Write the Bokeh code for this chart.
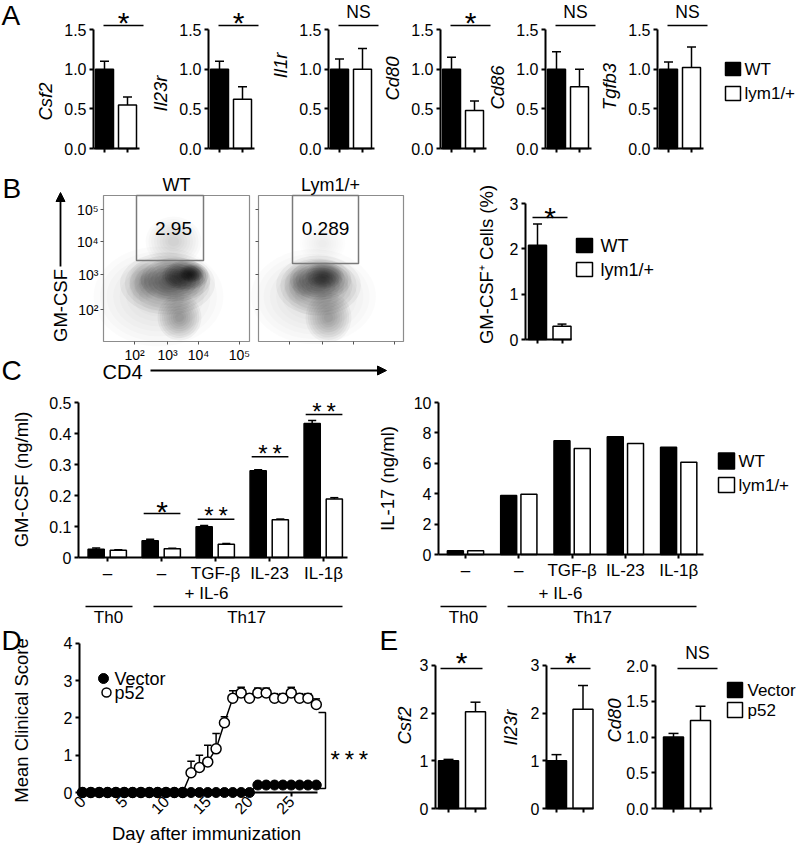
from math import pi
from bokeh.plotting import figure
from bokeh.models import Range1d, FixedTicker, Arrow, NormalHead, LinearAxis
from bokeh.core.properties import value
from bokeh.embed import file_html
from bokeh.resources import INLINE

FONT = "Liberation Sans"
TICK_FS = "16px"
LAB_FS = "18.5px"
LEG_FS = "17px"
PANEL_FS = "28px"
NS_FS = "17.5px"
CAT_FS = "17px"
W, H = 800, 843

# ======================= DATA =======================
# Panel A: relative expression, WT vs lym1/+
A_GENES = ["Csf2", "Il23r", "Il1r", "Cd80", "Cd86", "Tgfb3"]
A_WT = [1.00, 1.00, 1.00, 1.00, 1.00, 1.00]
A_WT_ERR = [0.10, 0.10, 0.13, 0.15, 0.22, 0.09]
A_LYM = [0.55, 0.62, 1.00, 0.48, 0.78, 1.02]
A_LYM_ERR = [0.10, 0.16, 0.26, 0.12, 0.22, 0.26]
A_SIG = ["*", "*", "NS", "*", "NS", "NS"]
A_YTICKS = [0, 0.5, 1, 1.5]
A_YLABELS = ["0.0", "0.5", "1.0", "1.5"]
GROUPS = ["WT", "lym1/+"]

# Panel B: flow cytometry + % GM-CSF+ cells
FLOW_TITLES = ["WT", "Lym1/+"]
FLOW_GATE_PCT = ["2.95", "0.289"]
FLOW_TICK_LABELS = ["10²", "10³", "10⁴", "10⁵"]
FLOW_X_TICKS = [31, 64, 95, 136]
FLOW_Y_TICKS = [32, 67, 100, 132]
FLOW_WT_GATE = [33, 100, 81, 146]
FLOW_LYM_GATE = [34, 100, 78, 146]
# density blobs of the dot clouds: centre x, centre y, width, height, alpha
FLOW_WT_BX = [55, 64, 72, 82, 88, 76, 70, 40]
FLOW_WT_BY = [45, 58, 62, 66, 68, 24, 100, 60]
FLOW_WT_BW = [130, 95, 70, 46, 24, 44, 56, 30]
FLOW_WT_BH = [100, 62, 44, 30, 18, 46, 50, 40]
FLOW_WT_BA = [0.10, 0.30, 0.40, 0.55, 0.55, 0.30, 0.12, 0.15]
FLOW_LYM_BX = [55, 60, 62, 66, 70, 64, 40]
FLOW_LYM_BY = [45, 56, 62, 66, 24, 98, 58]
FLOW_LYM_BW = [125, 85, 62, 38, 46, 46, 30]
FLOW_LYM_BH = [95, 60, 40, 26, 50, 40, 40]
FLOW_LYM_BA = [0.10, 0.28, 0.36, 0.40, 0.25, 0.06, 0.12]
B_YLABEL = "GM-CSF⁺ Cells (%)"
B_VALUES = [2.08, 0.29]
B_ERRS = [0.47, 0.05]
B_SIG = "*"
B_YTICKS = [0, 1, 2, 3]

# Panel C: cytokine production
C_CATS = ["–", "–", "TGF-β", "IL-23", "IL-1β"]
C_SUB = "+ IL-6"
C_GM_WT = [0.027, 0.054, 0.099, 0.280, 0.432]
C_GM_WT_ERR = [0.004, 0.005, 0.004, 0.003, 0.010]
C_GM_LYM = [0.023, 0.028, 0.043, 0.122, 0.189]
C_GM_LYM_ERR = [0.002, 0.002, 0.002, 0.002, 0.004]
C_GM_SIG = ["", "*", "**", "**", "**"]
C_GM_SIG_Y = [0, 0.142, 0.123, 0.325, 0.461]
C_IL17_WT = [0.25, 3.88, 7.48, 7.74, 7.05]
C_IL17_LYM = [0.25, 3.97, 6.98, 7.30, 6.07]
C_GM_YTICKS = [0, 0.1, 0.2, 0.3, 0.4, 0.5]
C_GM_YLABELS = ["0", "0.1", "0.2", "0.3", "0.4", "0.5"]
C_IL17_YTICKS = [0, 2, 4, 6, 8, 10]
C_IL17_YLABELS = ["0", "2", "4", "6", "8", "10"]
C_GROUPS = ["Th0", "Th17"]

# Panel D: EAE clinical score
D_DAYS = [0, 1, 2, 3, 4, 5, 6, 7, 8, 9, 10, 11, 12, 13, 14, 15, 16, 17, 18, 19,
          20, 21, 22, 23, 24, 25, 26, 27, 28]
D_VECTOR = [0, 0, 0, 0, 0, 0, 0, 0, 0, 0, 0, 0, 0, 0, 0, 0, 0, 0, 0, 0,
            0, 0.2, 0.2, 0.2, 0.2, 0.2, 0.2, 0.2, 0.2]
D_P52 = [0, 0, 0, 0, 0, 0, 0, 0, 0, 0, 0, 0, 0, 0.53, 0.67, 0.82, 1.17, 1.87, 2.53, 2.67,
         2.53, 2.67, 2.67, 2.53, 2.53, 2.67, 2.53, 2.53, 2.36]
D_P52_ERR = [0, 0, 0, 0, 0, 0, 0, 0, 0, 0, 0, 0, 0, 0.31, 0.33, 0.45, 0.41, 0.16, 0.20, 0.15,
             0.12, 0.13, 0.13, 0.12, 0.12, 0.15, 0.12, 0.12, 0.15]
D_SERIES = ["Vector", "p52"]
D_SIG = "***"
D_XTICKS = [0, 5, 10, 15, 20, 25]
D_YTICKS = [0, 1, 2, 3, 4]

# Panel E: p52 over-expression
E_GENES = ["Csf2", "Il23r", "Cd80"]
E_VEC = [1.00, 1.00, 1.00]
E_VEC_ERR = [0.03, 0.13, 0.05]
E_P52 = [2.03, 2.08, 1.23]
E_P52_ERR = [0.20, 0.50, 0.20]
E_SIG = ["*", "*", "NS"]
E_YTICKS = [[0, 1, 2, 3], [0, 1, 2, 3], [0, 0.5, 1, 1.5, 2]]
E_YLABELS = [["0", "1", "2", "3"], ["0", "1", "2", "3"], ["0.0", "0.5", "1.0", "1.5", "2.0"]]

# ======================= CANVAS =======================
p = figure(width=W, height=H, x_range=Range1d(0, W), y_range=Range1d(0, H),
           output_backend="svg", toolbar_location=None, title=None,
           x_axis_location=None, y_axis_location=None,
           min_border_left=0, min_border_right=0, min_border_top=0, min_border_bottom=0)
p.outline_line_color = None
p.grid.visible = False
p.background_fill_color = "white"
p.border_fill_color = "white"


class Sub:
    """A sub-plot coordinate system: data value val_x sits at page pixel px_x, etc."""
    n = 0

    def __init__(self, px_x, val_x, ppx, px_y, val_y, ppy):
        Sub.n += 1
        self.xn, self.yn = "sx%d" % Sub.n, "sy%d" % Sub.n
        self.px_x, self.val_x, self.ppx = px_x, val_x, ppx
        self.px_y, self.val_y, self.ppy = px_y, val_y, ppy
        xs = val_x - px_x / ppx
        ys = val_y - (H - px_y) / ppy
        p.extra_x_ranges[self.xn] = Range1d(xs, xs + W / ppx)
        p.extra_y_ranges[self.yn] = Range1d(ys, ys + H / ppy)

    def vx(self, px):
        return self.val_x + (px - self.px_x) / self.ppx

    def vy(self, py):
        return self.val_y + (self.px_y - py) / self.ppy

    def pxx(self, v):
        return self.px_x + (v - self.val_x) * self.ppx

    def pxy(self, v):
        return self.px_y - (v - self.val_y) * self.ppy

    @property
    def kw(self):
        return dict(x_range_name=self.xn, y_range_name=self.yn)


def T(x, y, s, fs, align="left", angle=0, style="normal"):
    """text in page pixels (y measured from the top)"""
    p.text(x=[x], y=[H - y], text=[s], angle=angle, text_font=value(FONT),
           text_font_size=value(fs), text_align=value(align),
           text_baseline=value("middle"), text_font_style=value(style),
           text_color="black")


def L(xs, ys, lw=1.5, color="black"):
    p.line(x=xs, y=[H - y for y in ys], line_color=color, line_width=lw)


def square(cx, cy, w, h, fill):
    p.rect(x=[cx], y=[H - cy], width=w, height=h, fill_color=fill, line_color="black",
           line_width=1.5)


def arrow(ax, ay, bx, by):
    p.add_layout(Arrow(end=NormalHead(size=9, fill_color="black", line_color="black",
                                      line_width=1),
                       x_start=ax, y_start=H - ay, x_end=bx, y_end=H - by,
                       line_width=1.8, line_color="black"))


def axis(sub, side, loc, ticks, labels, bounds=None, fs=TICK_FS, color="black", lw=2,
         tick_out=4, standoff=3, orientation=None):
    ax = LinearAxis(x_range_name=sub.xn, y_range_name=sub.yn, fixed_location=loc,
                    ticker=FixedTicker(ticks=list(ticks), minor_ticks=[]),
                    major_label_overrides={t: l for t, l in zip(ticks, labels)})
    if bounds is not None:
        ax.bounds = bounds
    ax.axis_line_color = color
    ax.axis_line_width = lw
    ax.major_tick_line_color = color
    ax.major_tick_line_width = lw
    ax.major_tick_out = tick_out
    ax.major_tick_in = 0
    ax.minor_tick_line_color = None
    ax.major_label_text_font = FONT
    ax.major_label_text_font_size = fs
    ax.major_label_text_color = "black"
    ax.major_label_standoff = standoff
    if orientation is not None:
        ax.major_label_orientation = orientation
    p.add_layout(ax, side)
    return ax


def bars(sub, xs, tops, errs, bw, fills, cap_frac=0.25):
    p.vbar(x=xs, top=tops, width=bw, bottom=0, fill_color=fills,
           line_color="black", line_width=1.5, **sub.kw)
    ex = [x for x, e in zip(xs, errs) if e > 0]
    et = [t for t, e in zip(tops, errs) if e > 0]
    ee = [t + e for t, e in zip(tops, errs) if e > 0]
    cw = bw * cap_frac
    p.segment(x0=ex, y0=et, x1=ex, y1=ee, line_color="black", line_width=1.5, **sub.kw)
    p.segment(x0=[x - cw for x in ex], y0=ee, x1=[x + cw for x in ex], y1=ee,
              line_color="black", line_width=1.5, **sub.kw)


def star_text(s):
    return "\u2009".join(list(s))


def sig_px(x0, x1, y, label, gap=10, ns_gap=14):
    """significance line in page pixels, label centred above"""
    if not label:
        return
    L([x0, x1], [y, y])
    xc = (x0 + x1) / 2
    if label.startswith("*"):
        fs = 30 if len(label) == 1 else 24
        T(xc, y - gap + 0.23 * fs, star_text(label), "%dpx" % fs, "center")
    else:
        T(xc, y - ns_gap, label, NS_FS, "center")


def blank_x(sub, px0, px1):
    axis(sub, "below", 0, [1, 2], ["", ""], (sub.vx(px0), sub.vx(px1)), fs="1px", standoff=0)


# ======================= PANEL A =======================
A_AXIS_X = [93, 208, 328, 440, 545, 657]
A_LABEL_Y = [101, 93, 65, 78, 87, 86]
T(1, 15, "A", PANEL_FS)
for i in range(6):
    axx = A_AXIS_X[i]
    s = Sub(axx + 11, 1, 23.0, 148, 0, 79.3)
    bars(s, [1, 2], [A_WT[i], A_LYM[i]], [A_WT_ERR[i], A_LYM_ERR[i]], 18 / 23.0,
         ["black", "white"])
    sig_px(axx + 10, axx + 50, 25, A_SIG[i], gap=10, ns_gap=14)
    axis(s, "left", s.vx(axx), A_YTICKS, A_YLABELS, (0, 1.5))
    blank_x(s, axx, axx + 46)
    T(axx - 48, A_LABEL_Y[i], A_GENES[i], LAB_FS, "center", pi / 2, "italic")
square(732.5, 68.5, 15, 13, "black")
T(744, 68.5, GROUPS[0], LEG_FS)
square(732.5, 93, 15, 14, "white")
T(744, 93, GROUPS[1], LEG_FS)

# ======================= PANEL B =======================
T(2, 187.5, "B", PANEL_FS)
T(60, 305, "GM-CSF", LAB_FS, "center", pi / 2)
arrow(60, 266, 60, 192)


def flow(box_left, box_w, title, title_x, bx, by, bw, bh, ba, gate, pct, pct_xy, labels):
    s = Sub(box_left, 0, 1.0, 341, 0, 1.0)
    scales = (1.0, 0.9, 0.8, 0.7, 0.6, 0.5, 0.4, 0.3, 0.2)
    for sc in scales:
        p.ellipse(x=bx, y=by, width=[w * sc for w in bw], height=[h * sc for h in bh],
                  fill_color="black", fill_alpha=[a * 0.15 for a in ba], line_color=None,
                  **s.kw)
    p.quad(left=[0], right=[box_w], bottom=[0], top=[146], fill_color=None,
           line_color="#8c8c8c", line_width=1.2, **s.kw)
    p.quad(left=[gate[0]], right=[gate[1]], bottom=[gate[2]], top=[gate[3]],
           fill_color=None, line_color="#7a7a7a", line_width=1.5, **s.kw)
    T(s.pxx(pct_xy[0]), s.pxy(pct_xy[1]), pct, "19px", "center")
    T(title_x, 184, title, "18px", "center")
    lab = FLOW_TICK_LABELS if labels else ["", "", "", ""]
    fs = "14px" if labels else "1px"
    ya = axis(s, "left", 0, FLOW_Y_TICKS, lab, None, fs=fs, color="#555555", lw=1, tick_out=3,
              standoff=2)
    xa = axis(s, "below", 0, FLOW_X_TICKS, lab, None, fs=fs, color="#555555", lw=1, tick_out=3,
              standoff=2)
    ya.axis_line_color = None
    xa.axis_line_color = None


flow(103, 146, FLOW_TITLES[0], 176, FLOW_WT_BX, FLOW_WT_BY, FLOW_WT_BW, FLOW_WT_BH, FLOW_WT_BA,
     FLOW_WT_GATE, FLOW_GATE_PCT[0], (70, 113), True)
flow(258, 145, FLOW_TITLES[1], 330, FLOW_LYM_BX, FLOW_LYM_BY, FLOW_LYM_BW, FLOW_LYM_BH,
     FLOW_LYM_BA, FLOW_LYM_GATE, FLOW_GATE_PCT[1], (67, 113), False)

sB = Sub(537, 1, 24.5, 339, 0, 45.33)
bars(sB, [1, 2], B_VALUES, B_ERRS, 18 / 24.5, ["black", "white"])
sig_px(532, 567, 217, B_SIG, gap=7)
axis(sB, "left", sB.vx(525), B_YTICKS, [str(t) for t in B_YTICKS], (0, 3))
blank_x(sB, 525, 571)
T(486, 264, B_YLABEL, LAB_FS, "center", pi / 2)
square(584, 245, 16, 14, "black")
T(600, 245, GROUPS[0], "18px")
square(584, 269, 16, 14, "white")
T(600, 269, GROUPS[1], "18px")

T(102, 371.5, "CD4", "20px")
arrow(150, 370, 386, 370)

# ======================= PANEL C =======================
T(1, 369.5, "C", PANEL_FS)
cx = [1, 2, 3, 4, 5]
sCL = Sub(107, 1, 54.0, 557, 0, 310.0)
bars(sCL, [x - 0.21 for x in cx], C_GM_WT, C_GM_WT_ERR, 0.30, ["black"] * 5)
bars(sCL, [x + 0.20 for x in cx], C_GM_LYM, C_GM_LYM_ERR, 0.30, ["white"] * 5)
for g in range(5):
    if C_GM_SIG[g]:
        sig_px(sCL.pxx(cx[g] - 0.33), sCL.pxx(cx[g] + 0.35), sCL.pxy(C_GM_SIG_Y[g]),
               C_GM_SIG[g], gap=9)
axis(sCL, "left", sCL.vx(78), C_GM_YTICKS, C_GM_YLABELS, (0, 0.5))
axis(sCL, "below", 0, cx, C_CATS, (sCL.vx(78), sCL.vx(347)), fs=CAT_FS, standoff=2)
T(21, 479, "GM-CSF (ng/ml)", LAB_FS, "center", pi / 2)

sCR = Sub(465, 1, 53.3, 554, 0, 15.2)
bars(sCR, [x - 0.19 for x in cx], C_IL17_WT, [0] * 5, 0.30, ["black"] * 5)
bars(sCR, [x + 0.19 for x in cx], C_IL17_LYM, [0] * 5, 0.30, ["white"] * 5)
axis(sCR, "left", sCR.vx(438), C_IL17_YTICKS, C_IL17_YLABELS, (0, 10))
axis(sCR, "below", 0, cx, C_CATS, (sCR.vx(438), sCR.vx(703)), fs=CAT_FS, standoff=2)
T(387, 478, "IL-17 (ng/ml)", LAB_FS, "center", pi / 2)

square(726, 460.5, 16, 16, "black")
T(738, 460.5, GROUPS[0], LEG_FS)
square(726, 484.5, 16, 15, "white")
T(738, 484.5, GROUPS[1], LEG_FS)

# treatment groups under the C charts
for (sub_x, th0, th0_x, th17, th17_x) in [(206, (85, 132), 108, (153, 342), 246),
                                          (560, (440, 486), 463, (507, 696), 592)]:
    T(sub_x, 593, C_SUB, CAT_FS, "center")
    L(list(th0), [606, 606])
    L(list(th17), [606, 606])
    T(th0_x, 617, C_GROUPS[0], CAT_FS, "center")
    T(th17_x, 617, C_GROUPS[1], CAT_FS, "center")

# ======================= PANEL D =======================
T(1, 640, "D", PANEL_FS)
T(21, 720, "Mean Clinical Score", LAB_FS, "center", pi / 2)
sD = Sub(82, 0, 8.35, 792, 0, 37.3)
p.line(D_DAYS, D_P52, line_color="black", line_width=1.5, **sD.kw)
ex = [d for d, e in zip(D_DAYS, D_P52_ERR) if e > 0]
e0 = [v for v, e in zip(D_P52, D_P52_ERR) if e > 0]
e1 = [v + e for v, e in zip(D_P52, D_P52_ERR) if e > 0]
p.segment(x0=ex, y0=e0, x1=ex, y1=e1, line_color="black", line_width=1.5, **sD.kw)
p.segment(x0=[d - 0.45 for d in ex], y0=e1, x1=[d + 0.45 for d in ex], y1=e1,
          line_color="black", line_width=1.5, **sD.kw)
p.scatter(D_DAYS, D_P52, size=10, marker="circle", fill_color="white", line_color="black",
          line_width=1.5, **sD.kw)
p.line(D_DAYS, D_VECTOR, line_color="black", line_width=1.5, **sD.kw)
p.scatter(D_DAYS, D_VECTOR, size=10, marker="circle", fill_color="black", line_color="black",
          line_width=1, **sD.kw)
axis(sD, "left", sD.vx(79), D_YTICKS, [str(t) for t in D_YTICKS], (0, 4))
axis(sD, "below", 0, D_XTICKS, [str(t) for t in D_XTICKS], (sD.vx(79), sD.vx(317)),
     standoff=2, orientation=pi / 4)
T(206, 833, "Day after immunization", LAB_FS, "center")
# legend
p.scatter([103], [H - 678], size=10, marker="circle", fill_color="black", line_color="black")
T(114, 678, D_SERIES[0], "18px")
p.scatter([106], [H - 692], size=9, marker="circle", fill_color="white", line_color="black",
          line_width=1.5)
T(114, 692, D_SERIES[1], "18px")
# significance bracket
L([318, 325, 325, 318], [712, 712, 788, 788])
T(330, 753 + 0.23 * 24, star_text(D_SIG), "24px")

# ======================= PANEL E =======================
T(379, 640, "E", PANEL_FS)
# axis x, black-bar centre x, px/unit x, px/unit y, axis end x, sig line x0/x1, label x/y
E_LAYOUT = [
    (435, 448, 27.0, 47.67, 486, 440, 482, 404, 725),
    (546, 556, 26.5, 47.67, 593, 550, 590, 510, 727),
    (655, 673, 27.0, 71.5, 712, 677, 717, 614, 720),
]
for i, (axx, bcx, ppx, ppy, xend, s0, s1, lx, ly) in enumerate(E_LAYOUT):
    s = Sub(bcx, 1, ppx, 808, 0, ppy)
    bars(s, [1, 2], [E_VEC[i], E_P52[i]], [E_VEC_ERR[i], E_P52_ERR[i]], 20 / ppx,
         ["black", "white"])
    sig_px(s0, s1, 668, E_SIG[i], gap=13, ns_gap=15.5)
    axis(s, "left", s.vx(axx), E_YTICKS[i], E_YLABELS[i], (0, E_YTICKS[i][-1]))
    blank_x(s, axx, xend)
    T(lx, ly, E_GENES[i], LAB_FS, "center", pi / 2, "italic")
square(734.5, 689.5, 15, 15, "black")
T(747, 689.5, D_SERIES[0], LEG_FS)
square(734.5, 709.5, 15, 15, "white")
T(747, 709.5, D_SERIES[1], LEG_FS)

open("out.html", "w").write(file_html(p, INLINE))
